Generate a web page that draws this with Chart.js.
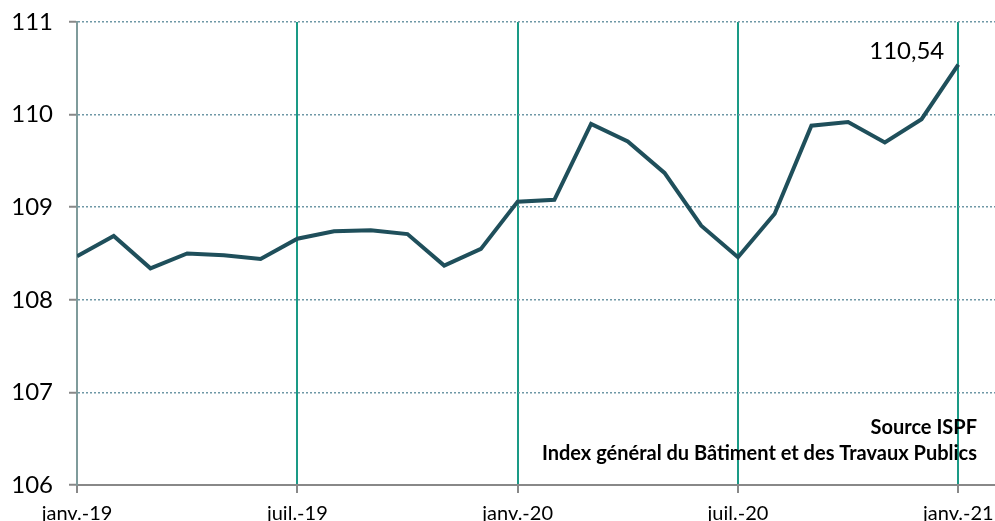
<!DOCTYPE html>
<html>
<head>
<meta charset="utf-8">
<script src="https://cdn.jsdelivr.net/npm/chart.js@4/dist/chart.umd.min.js"></script>
<style>
  html, body { margin: 0; padding: 0; background: #fff; }
  #wrap { width: 995px; height: 521px; }
</style>
</head>
<body>
<div id="wrap"><canvas id="chart"></canvas></div>
<script>
// indice BTP mensuel, janv.-19 -> janv.-21
const months = ["janv.-19","févr.-19","mars-19","avr.-19","mai-19","juin-19","juil.-19","août-19","sept.-19","oct.-19","nov.-19","déc.-19",
  "janv.-20","févr.-20","mars-20","avr.-20","mai-20","juin-20","juil.-20","août-20","sept.-20","oct.-20","nov.-20","déc.-20","janv.-21"];
const indexValues = [108.47, 108.69, 108.34, 108.50, 108.48, 108.44, 108.66, 108.74, 108.75, 108.71, 108.37, 108.55,
  109.06, 109.08, 109.90, 109.71, 109.37, 108.80, 108.46, 108.93, 109.88, 109.92, 109.70, 109.95, 110.54];
const tickLabels = ["janv.-19", "juil.-19", "janv.-20", "juil.-20", "janv.-21"];
const yTicks = [106, 107, 108, 109, 110, 111];
const lastLabel = "110,54";
const sourceLines = ["Source ISPF", "Index général du Bâtiment et des Travaux Publics"];

const FONT = "Lato, 'Open Sans', sans-serif";

const textPlugin = {
  id: 'texts',
  afterDatasetsDraw(chart) {
    const ctx = chart.ctx;
    const x = chart.scales.x, y = chart.scales.y;
    const last = indexValues.length - 1;
    ctx.save();
    ctx.fillStyle = '#000';
    ctx.font = "24px " + FONT;
    ctx.textAlign = 'right';
    ctx.textBaseline = 'middle';
    ctx.fillText(lastLabel, x.getPixelForValue(last) - 14, y.getPixelForValue(indexValues[last]) - 13);
    ctx.font = "bold 20px " + FONT;
    const right = chart.chartArea.right - 18;
    ctx.fillText(sourceLines[0], right, chart.chartArea.bottom - 57);
    ctx.fillText(sourceLines[1], right, chart.chartArea.bottom - 31);
    ctx.restore();
  }
};

new Chart(document.getElementById('chart'), {
  type: 'line',
  data: {
    datasets: [{
      data: indexValues.map((v, i) => ({ x: i, y: v })),
      borderColor: '#1f4f5b',
      borderWidth: 4,
      pointRadius: 0,
      tension: 0,
      fill: false
    }]
  },
  options: {
    responsive: true,
    maintainAspectRatio: false,
    animation: false,
    layout: { padding: { top: 22, right: 0, left: 0, bottom: 0 } },
    plugins: { legend: { display: false }, tooltip: { enabled: false } },
    scales: {
      x: {
        type: 'linear',
        min: 0,
        max: 25,
        afterFit(s) { s.height = 36; s.paddingLeft = 0; s.paddingRight = 0; },
        ticks: {
          stepSize: 6,
          includeBounds: false,
          autoSkip: false,
          maxRotation: 0,
          padding: 9,
          color: '#000',
          font: { family: FONT, size: 20 },
          callback: v => tickLabels[v / 6]
        },
        grid: {
          color: ctx => ctx.index === 0 ? 'rgba(0,0,0,0)' : '#1a9a86',
          lineWidth: 2,
          tickColor: '#888',
          tickWidth: 2,
          tickLength: 8
        },
        border: { color: '#888', width: 2 }
      },
      y: {
        min: 106,
        max: 111,
        afterFit(s) { s.width = 77; s.paddingTop = 0; s.paddingBottom = 0; },
        afterBuildTicks(s) { s.ticks = yTicks.map(v => ({ value: v })); },
        ticks: {
          padding: 16,
          color: '#000',
          font: { family: FONT, size: 24 },
          callback: v => String(v)
        },
        grid: {
          color: ctx => ctx.index === 0 ? 'rgba(0,0,0,0)' : '#6f98a6',
          lineWidth: 1.5,
          tickColor: '#888',
          tickWidth: 2,
          tickBorderDash: [],
          tickLength: 8
        },
        border: { color: '#7f9b9b', width: 2, dash: [2, 2] }
      }
    }
  },
  plugins: [textPlugin]
});
</script>
</body>
</html>
